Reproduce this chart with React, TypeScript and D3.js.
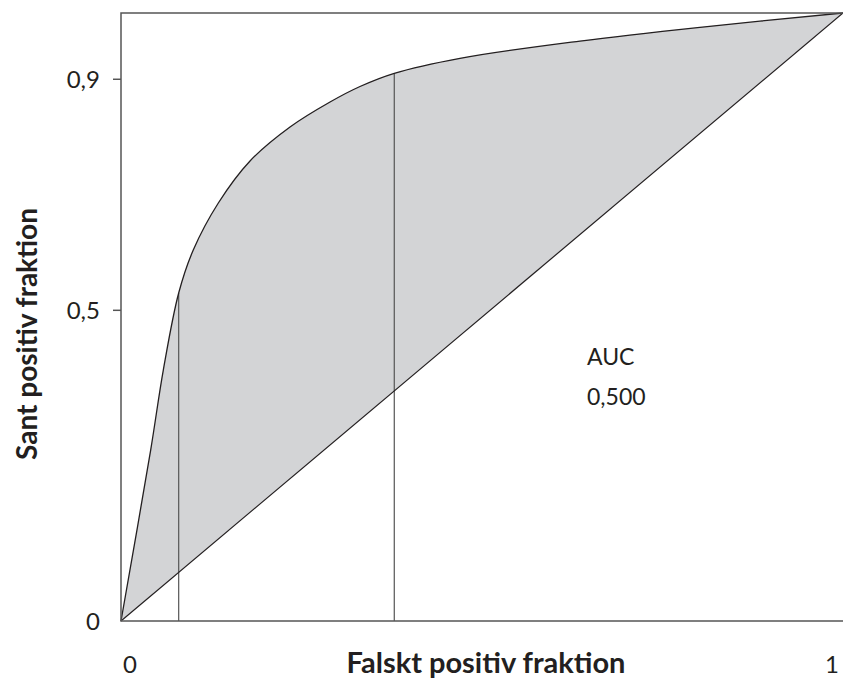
import React from "react";
import * as d3 from "d3";

// ROC curve points (false positive fraction, true positive fraction)
const rocFpf = [0, 0.0411, 0.0586, 0.0799, 0.1001, 0.1348, 0.1787, 0.2341, 0.2895, 0.3310, 0.3785, 0.4695, 0.6357, 0.8019, 1];
const rocTpf = [0, 0.2812, 0.4128, 0.5395, 0.6102, 0.6875, 0.7566, 0.8125, 0.8536, 0.8791, 0.9008, 0.9255, 0.9539, 0.9765, 1];

// Diagonal (chance line)
const diagFpf = [0, 1];
const diagTpf = [0, 1];

// Cut-off verticals (FPF positions)
const cutoffFpf = [0.0799, 0.3785];

// Tick labels
const yTickValues = [0, 0.511, 0.891];
const yTickLabels = ["0", "0,5", "0,9"];
const yTickMarks = [false, true, true];
const xTickValues = [0, 1];
const xTickLabels = ["0", "1"];

const aucLabel = ["AUC", "0,500"];
const xTitle = "Falskt positiv fraktion";
const yTitle = "Sant positiv fraktion";

const W = 843;
const H = 680;
const left = 121;
const right = 843;
const top = 13;
const bottom = 621;

export default function App() {
  const x = d3.scaleLinear().domain([0, 1]).range([left, right]);
  const y = d3.scaleLinear().domain([0, 1]).range([bottom, top]);

  const roc = rocFpf.map((f, i) => [f, rocTpf[i]] as [number, number]);
  const interp = d3.line<[number, number]>().x((d) => x(d[0])).y((d) => y(d[1])).curve(d3.curveCatmullRom.alpha(0.5));
  const rocPath = interp(roc) || "";

  const areaPath = rocPath + `L${x(diagFpf[1])},${y(diagTpf[1])}L${x(diagFpf[0])},${y(diagTpf[0])}Z`;
  const diagPath = d3.line<[number, number]>().x((d) => x(d[0])).y((d) => y(d[1]))(diagFpf.map((f, i) => [f, diagTpf[i]] as [number, number])) || "";

  const tpfAt = (f: number) => {
    const i = d3.bisectLeft(rocFpf, f);
    if (rocFpf[i] === f) return rocTpf[i];
    const t = (f - rocFpf[i - 1]) / (rocFpf[i] - rocFpf[i - 1]);
    return rocTpf[i - 1] + t * (rocTpf[i] - rocTpf[i - 1]);
  };

  const font = "'Lato', 'Open Sans', sans-serif";
  const ink = "#231f20";

  return (
    <svg width={W} height={H} style={{ position: "absolute", left: 0, top: 0, background: "#fff" }} fontFamily={font}>
      <path d={areaPath} fill="#d3d4d6" stroke="none" />
      {cutoffFpf.map((f, i) => (
        <line key={i} x1={x(f)} x2={x(f)} y1={y(0)} y2={y(tpfAt(f))} stroke="#555" strokeWidth={1.2} />
      ))}
      <path d={diagPath} fill="none" stroke={ink} strokeWidth={1.2} />
      <path d={rocPath} fill="none" stroke={ink} strokeWidth={1.3} />
      <path d={`M${x(1)},${y(1)}H${x(0)}V${y(0)}H${x(1)}`} fill="none" stroke="#555" strokeWidth={1.5} />
      {yTickValues.map((v, i) => (
        <g key={i}>
          {yTickMarks[i] && <line x1={x(0) - 8} x2={x(0)} y1={y(v)} y2={y(v)} stroke="#555" strokeWidth={1.5} />}
          <text x={x(0) - 21} y={y(v)} dy="0.36em" textAnchor="end" fontSize={24} fill={ink}>
            {yTickLabels[i]}
          </text>
        </g>
      ))}
      {xTickValues.map((v, i) => (
        <text key={i} x={x(v) + (i === 0 ? 9 : -11)} y={673} textAnchor="middle" fontSize={24} fill={ink}>
          {xTickLabels[i]}
        </text>
      ))}
      <text x={486} y={673} textAnchor="middle" fontSize={29} fontWeight="bold" fill={ink}>
        {xTitle}
      </text>
      <text transform={`translate(37,334) rotate(-90)`} textAnchor="middle" fontSize={28} fontWeight="bold" fill={ink}>
        {yTitle}
      </text>
      <text x={587} y={365} fontSize={23} fill={ink}>{aucLabel[0]}</text>
      <text x={587} y={405} fontSize={23} fill={ink}>{aucLabel[1]}</text>
    </svg>
  );
}
